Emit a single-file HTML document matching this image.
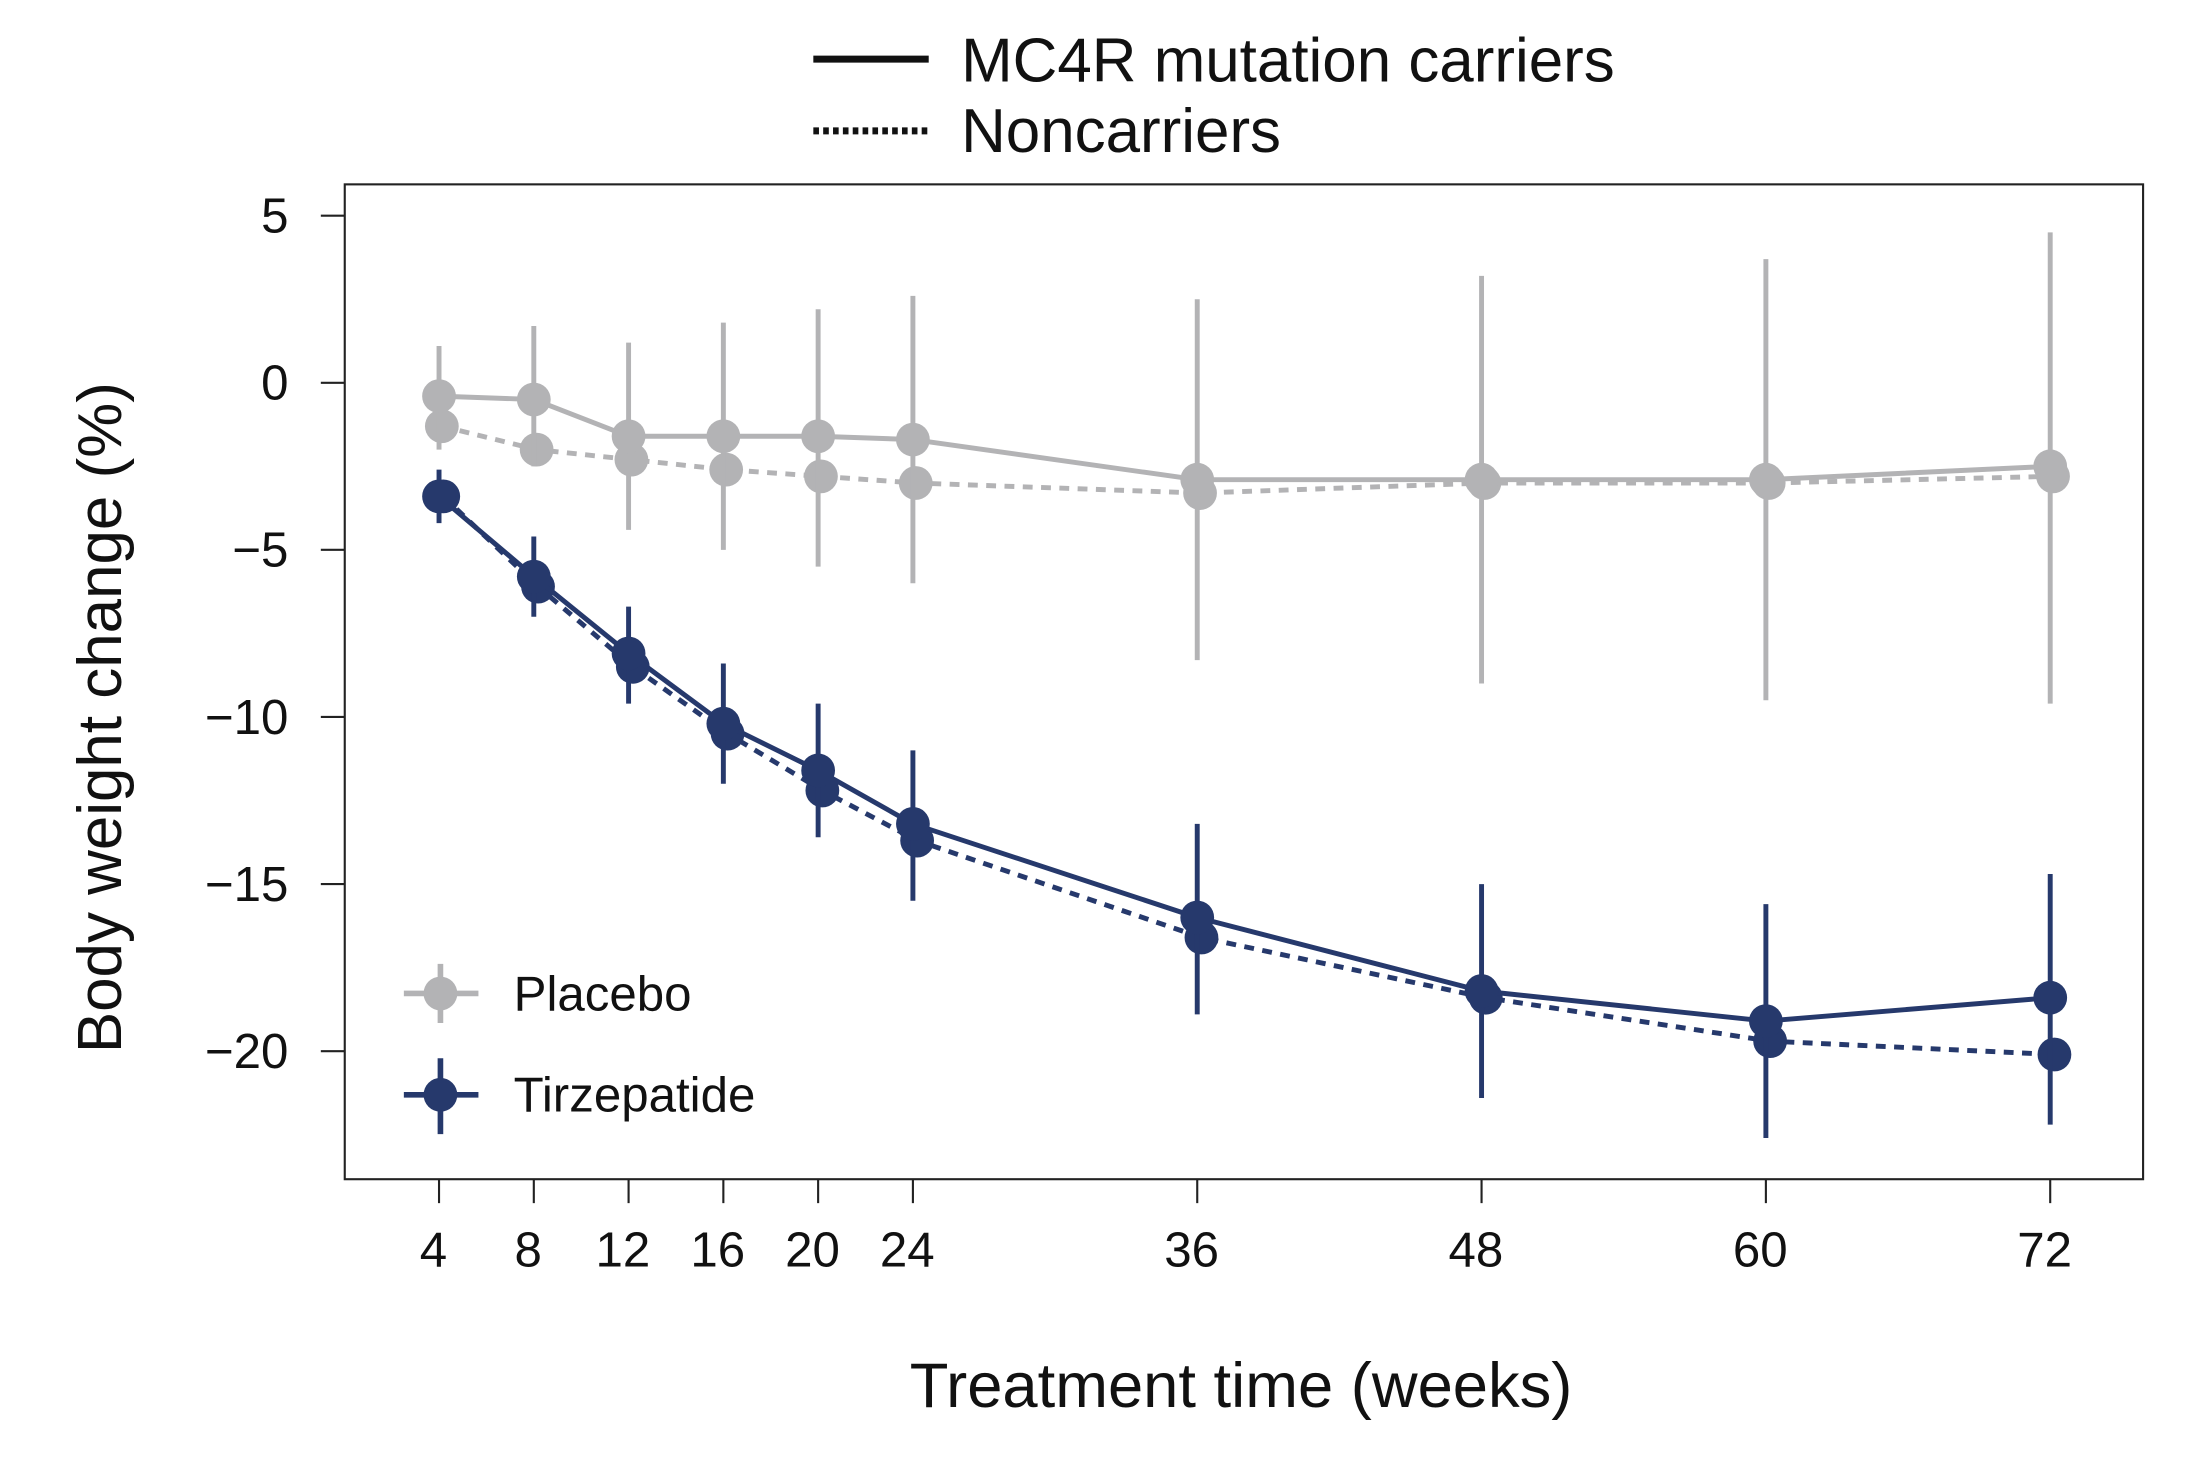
<!DOCTYPE html>
<html><head><meta charset="utf-8"><style>
html,body{margin:0;padding:0;background:#fff;}
svg{display:block;font-family:"Liberation Sans",sans-serif;}
</style></head><body>
<svg id="chart" width="2205" height="1467" viewBox="0 0 1567 1042.5" xmlns="http://www.w3.org/2000/svg">
<rect x="0" y="0" width="1567" height="1043" fill="#fff"/>
<g>
<line x1="578" y1="42" x2="660" y2="42" stroke="#111" stroke-width="5"/>
<text x="683" y="58" font-size="44" fill="#111">MC4R mutation carriers</text>
<line x1="578" y1="93" x2="660" y2="93" stroke="#111" stroke-width="5" stroke-dasharray="4,3"/>
<text x="683" y="108" font-size="44" fill="#111">Noncarriers</text>
</g>
<rect x="245" y="131" width="1278" height="707" fill="none" stroke="#222" stroke-width="1.5"/>
<g id="axes"></g>
<g id="marks"></g>
<g>
<line x1="287" y1="706" x2="340" y2="706" stroke="#b3b3b5" stroke-width="4"/>
<line x1="313" y1="685" x2="313" y2="727" stroke="#b3b3b5" stroke-width="4"/>
<circle cx="313" cy="706" r="12" fill="#b3b3b5"/>
<text x="365" y="718" font-size="35" fill="#111">Placebo</text>
<line x1="287" y1="778" x2="340" y2="778" stroke="#26396c" stroke-width="4"/>
<line x1="313" y1="752" x2="313" y2="806" stroke="#26396c" stroke-width="4"/>
<circle cx="313" cy="778" r="12" fill="#26396c"/>
<text x="365" y="790" font-size="35" fill="#111">Tirzepatide</text>
</g>
<text x="882" y="1000" font-size="45" text-anchor="middle" fill="#111">Treatment time (weeks)</text>
<text transform="translate(86,510) rotate(-90)" font-size="44" text-anchor="middle" fill="#111">Body weight change (%)</text>
</svg>
<script>
const weeks = [4, 8, 12, 16, 20, 24, 36, 48, 60, 72];
const yTicks = [5, 0, -5, -10, -15, -20];
const placeboCarrier = [-0.4, -0.5, -1.6, -1.6, -1.6, -1.7, -2.9, -2.9, -2.9, -2.5];
const placeboCarrierHi = [1.1, 1.7, 1.2, 1.8, 2.2, 2.6, 2.5, 3.2, 3.7, 4.5];
const placeboCarrierLo = [-2.0, -2.5, -4.4, -5.0, -5.5, -6.0, -8.3, -9.0, -9.5, -9.6];
const placeboNon = [-1.3, -2.0, -2.3, -2.6, -2.8, -3.0, -3.3, -3.0, -3.0, -2.8];
const tirzCarrier = [-3.4, -5.8, -8.1, -10.2, -11.6, -13.2, -16.0, -18.2, -19.1, -18.4];
const tirzCarrierHi = [-2.6, -4.6, -6.7, -8.4, -9.6, -11.0, -13.2, -15.0, -15.6, -14.7];
const tirzCarrierLo = [-4.2, -7.0, -9.6, -12.0, -13.6, -15.5, -18.9, -21.4, -22.6, -22.2];
const tirzNon = [-3.4, -6.1, -8.5, -10.5, -12.2, -13.7, -16.6, -18.4, -19.7, -20.1];

const NS = "http://www.w3.org/2000/svg";
const xs = w => 312 + (w - 4) * (1457 - 312) / 68;
const ys = v => 272 - v * 23.75;
const axes = document.getElementById('axes');
const marks = document.getElementById('marks');
function mk(tag, attrs, parent) {
  const e = document.createElementNS(NS, tag);
  for (const k in attrs) e.setAttribute(k, attrs[k]);
  parent.appendChild(e);
  return e;
}
yTicks.forEach(t => {
  const tk = mk('line', {x1: 228, x2: 245, y1: ys(t), y2: ys(t), stroke: '#222', 'stroke-width': 1.5}, axes);
  
  
  const lb = mk('text', {x: 205, y: ys(t) + 12, 'font-size': 35, 'text-anchor': 'end', fill: '#111'}, axes);
  lb.textContent = t < 0 ? '\u2212' + Math.abs(t) : String(t);
  
  
});
weeks.forEach(w => {
  const tk = mk('line', {x1: xs(w), x2: xs(w), y1: 838, y2: 855, stroke: '#222', 'stroke-width': 1.5}, axes);
  
  
  const lb = mk('text', {x: xs(w) - 4, y: 900, 'font-size': 35, 'text-anchor': 'middle', fill: '#111'}, axes);
  lb.textContent = String(w);
  
  
});
function series(vals, color, dashed, dx, hi, lo, name) {
  const g = mk('g', {}, marks);
  
  
  if (hi) {
    vals.forEach((v, i) => {
      const eb = mk('line', {x1: xs(weeks[i]) + dx, x2: xs(weeks[i]) + dx, y1: ys(hi[i]), y2: ys(lo[i]), stroke: color, 'stroke-width': 3.5}, g);
      
      
    });
  }
  const pts = vals.map((v, i) => (xs(weeks[i]) + dx) + ',' + ys(v)).join(' ');
  const pl = mk('polyline', {points: pts, fill: 'none', stroke: color, 'stroke-width': 3.5}, g);
  if (dashed) pl.setAttribute('stroke-dasharray', '7,6');
  
  
  vals.forEach((v, i) => {
    const c = mk('circle', {cx: xs(weeks[i]) + dx, cy: ys(v), r: 12, fill: color}, g);
    
    
  });
}
series(placeboNon, '#b3b3b5', true, 2, null, null, 'placebo-noncarriers');
series(placeboCarrier, '#b3b3b5', false, 0, placeboCarrierHi, placeboCarrierLo, 'placebo-carriers');
series(tirzNon, '#26396c', true, 3, null, null, 'tirzepatide-noncarriers');
series(tirzCarrier, '#26396c', false, 0, tirzCarrierHi, tirzCarrierLo, 'tirzepatide-carriers');
</script>
</body></html>
